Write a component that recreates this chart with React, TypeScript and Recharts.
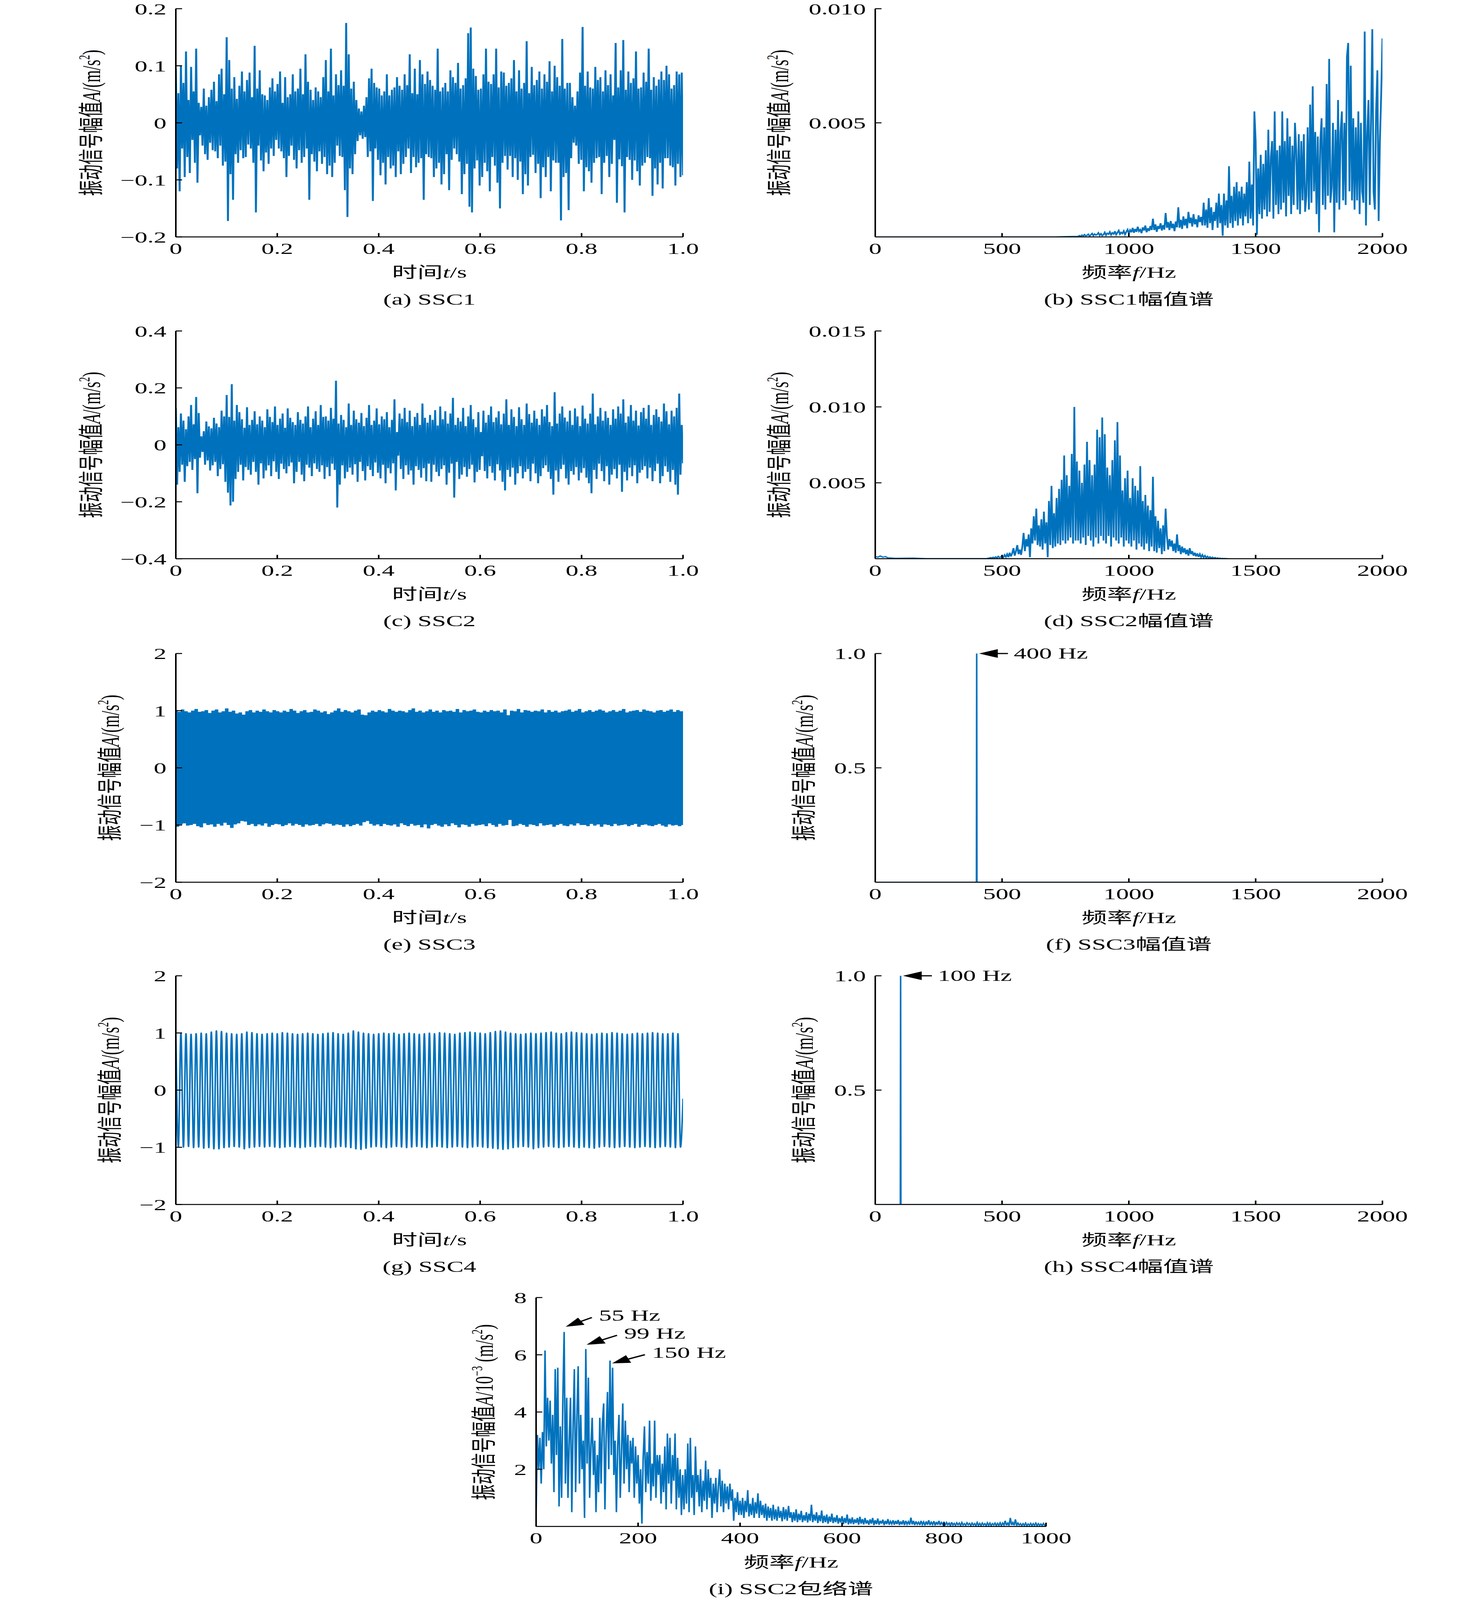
import React from "react";
import { LineChart, Line, XAxis, YAxis, ReferenceDot } from "recharts";

const FONT = '"Liberation Serif", "Times New Roman", "Noto Sans CJK SC", serif';
const BLUE = "#0072BD";
const REF_W = 3780;
const REF_H = 6618;

// (a) SSC1 time signal, 10^-3 m/s^2, 400 samples over 1 s
const ssc1Time = [
    95, -80, 52, -120, 100, -45, 70, -95, 125, -60,
    40, -88, 98, -30, 55, -70, 130, -105, 35, -22,
    28, -40, 60, -55, 30, -65, 45, -35, 58, -48,
    72, -50, 38, -62, 85, -40, 95, -75, 50, -68,
    150, -172, 110, -90, 60, -135, 80, -55, 42, -70,
    65, -48, 90, -62, 55, -60, 75, -38, 88, -45,
    45, -70, 135, -157, 60, -40, 92, -66, 50, -85,
    48, -52, 40, -72, 62, -45, 78, -58, 55, -30,
    68, -45, 90, -50, 35, -62, 80, -95, 45, -58,
    50, -40, 85, -65, 55, -80, 60, -48, 95, -70,
    50, -60, 120, -45, 72, -135, 58, -55, 40, -68,
    62, -85, 55, -50, 45, -72, 80, -60, 110, -90,
    55, -75, 130, -95, 48, -70, 85, -40, 66, -58,
    92, -60, 65, -118, 175, -165, 120, -80, 60, -90,
    72, -55, 40, -32, 25, -22, 20, -28, 30, -25,
    45, -60, 78, -50, 95, -137, 70, -45, 62, -65,
    60, -92, 48, -70, 55, -108, 85, -60, 48, -80,
    58, -75, 62, -95, 80, -50, 65, -90, 58, -72,
    85, -60, 66, -45, 120, -88, 52, -60, 95, -78,
    50, -70, 110, -62, 85, -135, 68, -55, 90, -60,
    75, -62, 65, -95, 58, -80, 130, -70, 55, -108,
    62, -90, 70, -55, 55, -118, 92, -65, 80, -45,
    70, -55, 105, -68, 60, -125, 66, -90, 78, -72,
    157, -147, 167, -157, 95, -80, 82, -66, 58, -110,
    60, -95, 85, -70, 130, -85, 72, -120, 68, -60,
    85, -75, 130, -105, 62, -150, 90, -70, 88, -58,
    65, -82, 70, -58, 78, -95, 110, -62, 55, -100,
    92, -68, 60, -125, 70, -90, 143, -110, 52, -60,
    98, -56, 66, -88, 75, -72, 90, -132, 60, -78,
    85, -95, 72, -60, 108, -120, 55, -66, 100, -70,
    80, -70, 65, -171, 147, -95, 60, -88, 70, -153,
    70, -62, 45, -35, 30, -40, 55, -72, 88, -65,
    168, -120, 65, -78, 90, -85, 62, -105, 60, -70,
    98, -62, 75, -60, 80, -125, 55, -70, 92, -58,
    66, -95, 85, -72, 48, -30, 140, -140, 62, -64,
    92, -76, 145, -157, 58, -60, 90, -65, 70, -100,
    78, -66, 125, -85, 60, -110, 62, -75, 88, -70,
    72, -60, 130, -62, 58, -128, 80, -80, 65, -108,
    76, -70, 90, -115, 75, -62, 100, -62, 85, -75,
    60, -78, 66, -110, 90, -72, 85, -95, 88, -92,
];

// (c) SSC2 time signal, 10^-3 m/s^2, 400 samples over 1 s
const ssc2Time = [
    130, -140, 62, -95, 110, -70, 85, -130, 55, -75,
    100, -60, 140, -88, 72, -50, 168, -170, 112, -45,
    30, -25, 48, -70, 82, -55, 65, -90, 58, -72,
    95, -60, 75, -110, 62, -85, 120, -68, 100, -130,
    175, -168, 98, -213, 213, -200, 85, -120, 140, -95,
    115, -70, 90, -125, 60, -78, 132, -88, 70, -105,
    88, -60, 118, -95, 72, -140, 100, -65, 85, -118,
    62, -90, 125, -72, 98, -110, 80, -58, 135, -95,
    70, -120, 92, -66, 110, -85, 60, -100, 128, -75,
    95, -62, 80, -135, 70, -95, 115, -60, 88, -105,
    75, -128, 100, -70, 135, -80, 62, -110, 92, -65,
    118, -85, 70, -95, 140, -72, 98, -120, 100, -78,
    85, -110, 130, -66, 92, -88, 225, -220, 75, -140,
    105, -72, 88, -118, 62, -95, 145, -80, 70, -105,
    120, -68, 90, -130, 78, -60, 112, -92, 66, -125,
    95, -75, 140, -88, 70, -110, 85, -62, 128, -98,
    72, -118, 100, -70, 90, -135, 115, -82, 62, -100,
    88, -65, 160, -160, 45, -38, 110, -85, 92, -120,
    130, -72, 80, -105, 120, -90, 66, -140, 98, -75,
    112, -88, 70, -115, 145, -82, 95, -128, 78, -66,
    105, -130, 88, -70, 122, -95, 68, -110, 135, -85,
    90, -72, 118, -140, 75, -98, 110, -66, 165, -185,
    70, -60, 95, -120, 82, -105, 130, -78, 66, -112,
    100, -85, 140, -70, 90, -132, 62, -95, 115, -88,
    45, -40, 120, -92, 78, -118, 105, -75, 135, -98,
    80, -125, 96, -68, 118, -90, 72, -130, 110, -160,
    160, -88, 70, -112, 125, -80, 98, -140, 66, -100,
    132, -75, 90, -118, 70, -95, 145, -85, 108, -128,
    78, -66, 120, -100, 92, -135, 70, -110, 125, -82,
    100, -72, 140, -95, 80, -120, 66, -175, 185, -90,
    75, -130, 110, -85, 135, -70, 96, -118, 82, -140,
    120, -92, 70, -105, 128, -78, 100, -125, 66, -98,
    138, -82, 92, -115, 75, -135, 110, -170, 180, -88,
    72, -120, 100, -66, 130, -92, 85, -128, 118, -75,
    95, -140, 70, -105, 125, -85, 92, -118, 135, -70,
    110, -165, 160, -95, 78, -125, 100, -80, 140, -110,
    85, -72, 120, -135, 68, -98, 115, -88, 130, -75,
    92, -118, 140, -80, 70, -128, 105, -92, 125, -66,
    98, -135, 82, -110, 145, -75, 118, -95, 72, -130,
    120, -88, 100, -140, 130, -175, 180, -105, 70, -65,
];

// (e) SSC3 time signal, 10^-2 m/s^2, 300 samples over 1 s
const ssc3Time = [
    101, -103, 98, -99, 102, -97, 99, -101, 97, -100,
    100, -98, 103, -102, 98, -104, 99, -97, 101, -100,
    96, -99, 100, -103, 102, -98, 97, -101, 99, -96,
    104, -100, 98, -105, 100, -99, 95, -97, 97, -93,
    93, -94, 99, -100, 101, -98, 97, -102, 100, -99,
    98, -101, 102, -97, 99, -103, 97, -100, 101, -98,
    99, -99, 97, -102, 100, -100, 98, -97, 103, -101,
    100, -98, 96, -100, 99, -103, 101, -99, 97, -101,
    98, -100, 102, -98, 100, -102, 97, -99, 99, -97,
    94, -98, 97, -101, 100, -99, 104, -100, 98, -103,
    101, -99, 99, -102, 97, -100, 100, -98, 102, -101,
    93, -95, 92, -93, 97, -98, 100, -101, 98, -99,
    101, -102, 99, -98, 97, -100, 103, -101, 100, -99,
    98, -103, 100, -97, 99, -100, 97, -102, 101, -98,
    104, -101, 98, -100, 100, -104, 97, -99, 99, -106,
    102, -100, 98, -98, 100, -101, 97, -103, 101, -99,
    99, -102, 100, -97, 98, -100, 103, -104, 97, -99,
    101, -100, 99, -103, 100, -98, 102, -101, 98, -100,
    97, -99, 100, -102, 98, -97, 101, -100, 99, -103,
    100, -98, 97, -101, 102, -100, 92, -91, 100, -102,
    99, -101, 103, -98, 97, -100, 101, -103, 100, -99,
    98, -100, 100, -102, 99, -97, 102, -101, 97, -100,
    101, -99, 98, -103, 100, -100, 97, -98, 99, -101,
    100, -102, 102, -99, 98, -101, 100, -97, 103, -100,
    97, -100, 99, -102, 101, -98, 98, -101, 100, -99,
    102, -103, 100, -99, 97, -100, 99, -102, 101, -98,
    98, -101, 100, -100, 103, -99, 97, -102, 99, -100,
    100, -98, 101, -103, 98, -100, 102, -99, 100, -101,
    99, -102, 97, -100, 100, -98, 101, -101, 98, -103,
    100, -99, 102, -101, 98, -100, 101, -102, 99, -100,
];

// (g) SSC4: crest and trough of each 100 Hz cycle, 10^-2 m/s^2
const ssc4Peaks = [
    99, 100, 99, 98, 99, 100, 99, 102, 104, 103,
    100, 99, 98, 99, 102, 101, 99, 98, 99, 100,
    99, 101, 100, 99, 98, 99, 100, 99, 98, 99,
    100, 101, 99, 98, 100, 104, 102, 100, 99, 98,
    99, 100, 99, 100, 98, 99, 100, 99, 98, 99,
    100, 99, 101, 100, 99, 98, 100, 101, 102, 101,
    100, 99, 101, 103, 104, 102, 100, 99, 98, 99,
    100, 99, 100, 101, 102, 100, 99, 101, 102, 101,
    100, 99, 98, 99, 100, 99, 101, 100, 99, 98,
    99, 100, 99, 100, 101, 100, 99, 99, 100, 99,
];
const ssc4Troughs = [
    -99, -100, -99, -101, -100, -102, -101, -103, -103, -101,
    -100, -99, -100, -103, -101, -100, -99, -100, -99, -100,
    -101, -100, -99, -100, -101, -100, -99, -100, -99, -100,
    -101, -100, -99, -100, -101, -103, -104, -102, -100, -99,
    -100, -101, -100, -99, -100, -101, -100, -99, -100, -101,
    -100, -99, -100, -101, -100, -99, -100, -101, -100, -99,
    -100, -101, -102, -103, -104, -103, -101, -100, -99, -100,
    -103, -101, -100, -99, -100, -101, -100, -99, -100, -101,
    -100, -101, -102, -100, -99, -100, -101, -100, -99, -100,
    -101, -100, -99, -100, -101, -100, -99, -100, -101, -100,
];
const ssc4End = -15;

// (b) SSC1 amplitude spectrum, 10^-4 m/s^2, 5 Hz bins from 800 Hz
const ssc1LeadF = [0, 700, 760];
const ssc1LeadA = [0, 0, 0.2];
const ssc1Spec = [
    0.3, 0.6, 0.2, 0.8, 0.4, 1.0, 0.5, 0.7, 1.2, 0.4,
    0.9, 1.5, 0.6, 1.3, 0.8, 1.1, 1.8, 0.7, 1.4, 0.6,
    1.0, 2.0, 0.8, 1.6, 1.2, 2.2, 0.9, 1.8, 1.3, 2.5,
    1.0, 1.9, 2.8, 1.2, 2.0, 1.5, 2.6, 1.1, 2.2, 3.2,
    1.5, 3.0, 2.0, 4.0, 1.8, 3.5, 2.2, 4.5, 2.5, 3.2,
    1.6, 4.2, 2.8, 5.0, 2.0, 3.8, 2.6, 4.8, 3.0, 8.0,
    3.0, 5.5, 2.2, 4.8, 3.5, 6.0, 2.8, 5.2, 3.2, 10.5,
    4.0, 6.5, 3.0, 7.0, 3.8, 5.8, 2.5, 6.8, 4.2, 13.0,
    4.0, 7.5, 3.5, 9.0, 5.0, 8.0, 3.8, 11.0, 6.0, 8.5,
    4.5, 10.0, 5.5, 7.8, 4.2, 9.5, 6.5, 8.8, 5.0, 15.0,
    5, 12, 4, 17, 6, 13, 3, 11, 7, 15,
    4, 19, 6, 14, 0.5, 19, 5, 16, 4, 31,
    6, 18, 4, 22, 7, 24, 5, 20, 8, 22,
    5, 19, 9, 24, 6, 33, 8, 23, 5, 55,
    42, 1, 30, 10, 36, 8, 32, 12, 38, 9,
    47, 11, 35, 42, 8, 55, 14, 38, 10, 40,
    12, 55, 15, 42, 9, 52, 18, 44, 10, 40,
    14, 50, 38, 12, 45, 10, 42, 16, 45, 11,
    18, 48, 12, 58, 15, 66, 20, 46, 10, 44,
    2, 42, 52, 14, 48, 12, 67, 18, 78, 15,
    22, 50, 2, 47, 15, 60, 12, 46, 55, 16,
    50, 14, 79, 85, 20, 75, 16, 52, 12, 48,
    16, 55, 10, 50, 20, 15, 90, 5, 45, 60,
    14, 52, 91, 20, 12, 55, 73, 7, 42, 62,
    87,
];

// (d) SSC2 amplitude spectrum, 10^-4 m/s^2, 5 Hz bins from 450 Hz
const ssc2LeadF = [0, 10, 20, 30, 40, 50, 80, 150, 200, 440];
const ssc2LeadA = [1.5, 1.0, 1.8, 1.0, 1.4, 0.6, 0.3, 0.4, 0.1, 0.2];
const ssc2Spec = [
    0.5, 0.8, 0.4, 1.0, 0.6, 1.2, 0.5, 1.5, 0.8, 1.1,
    2.0, 0.8, 2.5, 1.2, 3.0, 1.0, 4.0, 1.5, 3.5, 7.0,
    2, 5, 9, 3, 6, 2.5, 8, 17, 5, 13,
    8, 16, 1, 20, 10, 28, 12, 33, 9, 22,
    8, 26, 6, 31, 10, 24, 1, 38, 9, 48,
    7, 30, 8, 40, 10, 46, 9, 52, 12, 68,
    10, 55, 12, 48, 14, 69, 10, 100, 12, 64,
    12, 58, 10, 50, 14, 62, 9, 77, 15, 65,
    12, 55, 8, 62, 14, 85, 10, 80, 15, 93,
    12, 82, 10, 60, 15, 55, 8, 65, 14, 78,
    12, 90, 10, 68, 14, 45, 8, 53, 12, 58,
    10, 40, 8, 53, 12, 48, 6, 45, 10, 61,
    8, 38, 6, 42, 10, 35, 5, 32, 8, 54,
    5, 28, 4, 25, 7, 20, 3, 22, 5, 33,
    15, 6, 13, 8, 12, 5, 10, 4, 16, 5,
    9, 3, 8, 4, 7, 3, 6, 2, 7, 3,
    5, 2, 4, 1.5, 3.5, 1.2, 3, 1, 2.5, 0.8,
    2, 0.6, 1.5, 0.5, 1.2, 0.4, 1.0, 0.3, 0.8, 0.2,
    0.6, 0.2, 0.4, 0.1, 0.3, 0.1, 0.2, 0.05, 0.1, 0, 0,
];
const ssc2TailF = [1500, 2000];
const ssc2TailA = [0, 0];

// (f) / (h) single-tone spectra, m/s^2
const ssc3SpecF = [0, 399, 400, 401, 2000];
const ssc3SpecA = [0, 0, 1, 0, 0];
const ssc4SpecF = [0, 99, 100, 101, 2000];
const ssc4SpecA = [0, 0, 1, 0, 0];

// (i) SSC2 envelope spectrum, 10^-3 m/s^2, 2.5 Hz bins
// envLow: 0-400 Hz, envHigh: 402.5-1000 Hz
const envLow = [
    0.5, 3.2, 2.0, 3.1, 1.5, 3.3, 2.0, 6.15, 2.8, 4.5,
    3.0, 4.4, 2.2, 3.9, 1.2, 5.5, 2.5, 5.55, 0.7, 3.5,
    1.0, 4.5, 6.8, 1.5, 4.5, 1.0, 3.0, 4.5, 0.5, 3.5,
    5.5, 1.2, 3.8, 5.6, 1.5, 3.9, 2.0, 3.0, 0.3, 6.2,
    2.2, 5.2, 1.0, 2.8, 3.8, 1.8, 3.0, 0.5, 2.5, 1.2,
    3.8, 1.5, 3.6, 4.3, 0.6, 3.2, 4.7, 2.0, 5.8, 2.5,
    5.55, 1.8, 3.0, 0.5, 2.8, 3.9, 1.0, 2.6, 4.3, 1.5,
    3.7, 2.0, 3.2, 1.2, 3.0, 2.2, 3.1, 1.0, 2.8, 1.5,
    2.5, 0.8, 2.0, 0.1, 2.4, 3.5, 1.2, 2.6, 1.5, 3.7,
    0.9, 2.2, 1.4, 3.7, 1.0, 2.5, 1.8, 2.5, 0.8, 2.2,
    1.2, 2.8, 0.6, 3.25, 1.5, 3.1, 0.8, 2.5, 1.6, 3.25,
    0.6, 2.4, 1.0, 2.0, 0.4, 1.8, 0.6, 2.0, 0.8, 2.9,
    0.5, 3.1, 1.0, 1.8, 0.4, 2.8, 1.2, 1.8, 0.7, 2.0,
    0.5, 1.6, 0.9, 2.3, 0.6, 2.0, 1.0, 1.7, 0.3, 1.5,
    0.8, 1.7, 0.5, 1.4, 2.0, 0.7, 1.6, 0.5, 1.5, 0.8,
    1.4, 0.6, 1.5, 0.9, 1.3, 0.2, 1.0, 0.5, 1.2, 0.4,
    0.9,
];
const envHigh = [
    0.4, 1.0, 0.3, 0.9, 0.5, 1.27, 0.35, 0.8, 0.4, 1.0,
    0.3, 0.85, 0.45, 1.16, 0.3, 0.9, 0.4, 0.75, 0.3, 0.8,
    0.2, 0.7, 0.3, 0.65, 0.2, 0.76, 0.25, 0.6, 0.2, 0.7,
    0.3, 0.55, 0.18, 0.68, 0.25, 0.6, 0.2, 0.72, 0.3, 0.5,
    0.15, 0.5, 0.2, 0.6, 0.15, 0.45, 0.22, 0.55, 0.15, 0.4,
    0.2, 0.5, 0.14, 0.45, 0.2, 0.76, 0.15, 0.42, 0.2, 0.5,
    0.12, 0.4, 0.18, 0.56, 0.12, 0.38, 0.15, 0.42, 0.1, 0.35,
    0.16, 0.45, 0.12, 0.32, 0.15, 0.4, 0.1, 0.3, 0.14, 0.36,
    0.08, 0.3, 0.12, 0.42, 0.07, 0.28, 0.1, 0.32, 0.08, 0.25,
    0.12, 0.3, 0.06, 0.34, 0.1, 0.26, 0.07, 0.3, 0.1, 0.22,
    0.06, 0.25, 0.1, 0.3, 0.05, 0.22, 0.08, 0.28, 0.06, 0.2,
    0.1, 0.24, 0.05, 0.2, 0.08, 0.26, 0.06, 0.18, 0.09, 0.22,
    0.06, 0.2, 0.08, 0.23, 0.05, 0.18, 0.07, 0.22, 0.05, 0.2,
    0.08, 0.17, 0.06, 0.31, 0.07, 0.2, 0.05, 0.18, 0.08, 0.15,
    0.05, 0.2, 0.07, 0.16, 0.04, 0.18, 0.06, 0.22, 0.05, 0.15,
    0.07, 0.19, 0.04, 0.16, 0.06, 0.2, 0.05, 0.14, 0.07, 0.17,
    0.04, 0.14, 0.06, 0.12, 0.03, 0.15, 0.05, 0.11, 0.04, 0.13,
    0.06, 0.12, 0.03, 0.14, 0.05, 0.1, 0.04, 0.13, 0.06, 0.11,
    0.03, 0.12, 0.05, 0.1, 0.03, 0.14, 0.04, 0.11, 0.03, 0.12,
    0.05, 0.1, 0.03, 0.13, 0.04, 0.12, 0.03, 0.1, 0.05, 0.12,
    0.03, 0.11, 0.04, 0.13, 0.03, 0.12, 0.05, 0.2, 0.04, 0.12,
    0.03, 0.3, 0.05, 0.14, 0.04, 0.25, 0.03, 0.12, 0.05, 0.1,
    0.03, 0.1, 0.04, 0.12, 0.03, 0.09, 0.04, 0.11, 0.03, 0.1,
    0.04, 0.12, 0.03, 0.1, 0.04, 0.09, 0.03, 0.11, 0.04, 0.08,
];

const timeTicks = [0, 0.2, 0.4, 0.6, 0.8, 1.0];
const specTicks = [0, 500, 1000, 1500, 2000];
const envTicks = [0, 200, 400, 600, 800, 1000];

type Pt = { x: number; y: number };

const sampled = (vals: number[], unit: number): Pt[] =>
    vals.map((v, i) => ({ x: i / (vals.length - 1), y: v * unit }));
const binned = (start: number, step: number, vals: number[], unit: number): Pt[] =>
    vals.map((v, i) => ({ x: start + step * i, y: v * unit }));
const pairs = (fs: number[], as: number[], unit: number): Pt[] =>
    fs.map((f, i) => ({ x: f, y: as[i] * unit }));

const ssc1TimeData = sampled(ssc1Time, 1e-3);
const ssc2TimeData = sampled(ssc2Time, 1e-3);
const ssc3TimeData = sampled(ssc3Time, 1e-2);
const ssc4TimeData: Pt[] = [
    ...ssc4Peaks.flatMap((p, k) => [
        { x: k / 100, y: p / 100 },
        { x: (k + 0.5) / 100, y: ssc4Troughs[k] / 100 },
    ]),
    { x: 1, y: ssc4End / 100 },
];
const ssc1SpecData = [...pairs(ssc1LeadF, ssc1LeadA, 1e-4), ...binned(800, 5, ssc1Spec, 1e-4)];
const ssc2SpecData = [
    ...pairs(ssc2LeadF, ssc2LeadA, 1e-4),
    ...binned(450, 5, ssc2Spec, 1e-4),
    ...pairs(ssc2TailF, ssc2TailA, 1e-4),
];
const ssc3SpecData = pairs(ssc3SpecF, ssc3SpecA, 1);
const ssc4SpecData = pairs(ssc4SpecF, ssc4SpecA, 1);
const envData = [...binned(0, 2.5, envLow, 1), ...binned(402.5, 2.5, envHigh, 1)];

// tick formatting
const minus = (s: string) => s.replace("-", "\u2212");
const fmt1 = (v: number) => (v === 0 ? "0" : minus(v.toFixed(1)));
const fmtInt = (v: number) => minus(String(v));
const fmt3 = (v: number) => v.toFixed(3);
const fmtPlain = (v: number) => String(v);

const axisStyle = { stroke: "#000", strokeWidth: 4 };
const tickStyle = { fontSize: 65, fill: "#000", fontFamily: FONT };

// arrow pointing left at a spectral line, label on the right
const sideArrow = (label: string) => (p: any) => {
    const { cx, cy } = p;
    return (
        <g>
            <polygon points={`${cx + 6},${cy} ${cx + 54},${cy - 18} ${cx + 54},${cy + 18}`} fill="#000" />
            <line x1={cx + 50} y1={cy} x2={cx + 80} y2={cy} stroke="#000" strokeWidth={5} />
            <text x={cx + 95} y={cy} dominantBaseline="central" fontSize={65} fontFamily={FONT}>
                {label}
            </text>
        </g>
    );
};

// slanted arrow, tip at the anchor, tail up and to the right
const slantArrow = (label: string, dx: number, dy: number) => (p: any) => {
    const { cx, cy } = p;
    const len = Math.hypot(dx, dy);
    const ux = dx / len;
    const uy = dy / len;
    const bx = cx + ux * 46;
    const by = cy + uy * 46;
    return (
        <g>
            <polygon
                points={`${cx},${cy} ${bx - uy * 17},${by + ux * 17} ${bx + uy * 17},${by - ux * 17}`}
                fill="#000"
            />
            <line x1={bx - ux * 2} y1={by - uy * 2} x2={cx + dx} y2={cy + dy} stroke="#000" strokeWidth={5} />
            <text x={cx + dx + 18} y={cy + dy - 8} dominantBaseline="central" fontSize={65} fontFamily={FONT}>
                {label}
            </text>
        </g>
    );
};

type PanelProps = {
    rect: [number, number, number, number];
    data: Pt[];
    xDomain: [number, number];
    xTicks: number[];
    xFmt: (v: number) => string;
    yDomain: [number, number];
    yTicks: number[];
    yFmt: (v: number) => string;
    lineWidth?: number;
    curve?: "linear" | "monotone";
    yLabel: React.ReactNode;
    yLabelGap: number;
    xLabel: React.ReactNode;
    caption: React.ReactNode;
    children?: React.ReactNode;
};

const textBox: React.CSSProperties = {
    position: "absolute",
    whiteSpace: "nowrap",
    fontSize: 65,
    lineHeight: 1,
    fontFamily: FONT,
};

function Panel({
    rect,
    data,
    xDomain,
    xTicks,
    xFmt,
    yDomain,
    yTicks,
    yFmt,
    lineWidth = 3.5,
    curve = "linear",
    yLabel,
    yLabelGap,
    xLabel,
    caption,
    children,
}: PanelProps) {
    const [x0, y0, x1, y1] = rect;
    const padL = 300;
    const padT = 40;
    const padR = 90;
    const padB = 180;
    const cx = (x0 + x1) / 2;

    return (
        <>
            <div style={{ position: "absolute", left: x0 - padL, top: y0 - padT }}>
                <LineChart
                    width={x1 - x0 + padL + padR}
                    height={y1 - y0 + padT + padB}
                    data={data}
                    margin={{ top: padT, right: padR, bottom: 0, left: 0 }}
                    style={{ overflow: "visible" }}
                >
                    <XAxis
                        dataKey="x"
                        type="number"
                        domain={xDomain}
                        ticks={xTicks}
                        tickFormatter={xFmt}
                        interval={0}
                        height={padB}
                        axisLine={axisStyle}
                        tickLine={axisStyle}
                        tickSize={-16}
                        tickMargin={40}
                        tick={tickStyle}
                        allowDataOverflow
                    />
                    <YAxis
                        type="number"
                        domain={yDomain}
                        ticks={yTicks}
                        tickFormatter={yFmt}
                        interval={0}
                        width={padL}
                        axisLine={axisStyle}
                        tickLine={axisStyle}
                        tickSize={-16}
                        tickMargin={40}
                        tick={tickStyle}
                        allowDataOverflow
                    />
                    <Line
                        dataKey="y"
                        type={curve}
                        stroke={BLUE}
                        strokeWidth={lineWidth}
                        dot={false}
                        activeDot={false}
                        isAnimationActive={false}
                    />
                    {children}
                </LineChart>
            </div>

            {/* y label */}
            <div
                style={{
                    ...textBox,
                    left: x0 - yLabelGap,
                    top: (y0 + y1) / 2,
                    transform: "translate(-50%, -50%) rotate(-90deg)",
                }}
            >
                {yLabel}
            </div>

            {/* x label */}
            <div style={{ ...textBox, left: cx, top: y1 + 148, transform: "translate(-50%, -50%)" }}>
                {xLabel}
            </div>

            {/* caption */}
            <div style={{ ...textBox, left: cx, top: y1 + 258, transform: "translate(-50%, -50%)" }}>
                {caption}
            </div>
        </>
    );
}

const sup: React.CSSProperties = { fontSize: "0.6em", verticalAlign: "0.7em" };

const ampLabel = (
    <span>
        振动信号幅值<i>A</i>/(m/s<span style={sup}>2</span>)
    </span>
);
const envLabel = (
    <span>
        振动信号幅值<i>A</i>/10<span style={sup}>−3</span> (m/s<span style={sup}>2</span>)
    </span>
);
const timeLabel = (
    <span>
        时间<i>t</i>/s
    </span>
);
const freqLabel = (
    <span>
        频率<i>f</i>/Hz
    </span>
);

export default function App() {
    // the window may be shorter than the figure: squeeze it vertically to fit
    const k = Math.min(1, window.innerHeight / REF_H);

    return (
        <div style={{ width: REF_W, height: REF_H * k, overflow: "hidden", background: "#fff" }}>
            <style>{`body{margin:0}`}</style>
            <div
                style={{
                    position: "relative",
                    width: REF_W,
                    height: REF_H,
                    background: "#fff",
                    color: "#000",
                    fontFamily: FONT,
                    transform: `scale(1, ${k})`,
                    transformOrigin: "0 0",
                }}
            >
                {/* ROW 1 */}
                <Panel
                    rect={[450, 36, 1748, 980]}
                    data={ssc1TimeData}
                    xDomain={[0, 1]}
                    xTicks={timeTicks}
                    xFmt={fmt1}
                    yDomain={[-0.2, 0.2]}
                    yTicks={[-0.2, -0.1, 0, 0.1, 0.2]}
                    yFmt={fmt1}
                    lineWidth={5}
                    yLabel={ampLabel}
                    yLabelGap={218}
                    xLabel={timeLabel}
                    caption="(a) SSC1"
                />
                <Panel
                    rect={[2240, 36, 3538, 980]}
                    data={ssc1SpecData}
                    xDomain={[0, 2000]}
                    xTicks={specTicks}
                    xFmt={fmtPlain}
                    yDomain={[0, 0.01]}
                    yTicks={[0.005, 0.01]}
                    yFmt={fmt3}
                    lineWidth={4.5}
                    yLabel={ampLabel}
                    yLabelGap={247}
                    xLabel={freqLabel}
                    caption="(b) SSC1幅值谱"
                />

                {/* ROW 2 */}
                <Panel
                    rect={[450, 1369, 1748, 2311]}
                    data={ssc2TimeData}
                    xDomain={[0, 1]}
                    xTicks={timeTicks}
                    xFmt={fmt1}
                    yDomain={[-0.4, 0.4]}
                    yTicks={[-0.4, -0.2, 0, 0.2, 0.4]}
                    yFmt={fmt1}
                    lineWidth={5}
                    yLabel={ampLabel}
                    yLabelGap={218}
                    xLabel={timeLabel}
                    caption="(c) SSC2"
                />
                <Panel
                    rect={[2240, 1369, 3538, 2311]}
                    data={ssc2SpecData}
                    xDomain={[0, 2000]}
                    xTicks={specTicks}
                    xFmt={fmtPlain}
                    yDomain={[0, 0.015]}
                    yTicks={[0.005, 0.01, 0.015]}
                    yFmt={fmt3}
                    lineWidth={4.5}
                    yLabel={ampLabel}
                    yLabelGap={247}
                    xLabel={freqLabel}
                    caption="(d) SSC2幅值谱"
                />

                {/* ROW 3 */}
                <Panel
                    rect={[450, 2703, 1748, 3649]}
                    data={ssc3TimeData}
                    xDomain={[0, 1]}
                    xTicks={timeTicks}
                    xFmt={fmt1}
                    yDomain={[-2, 2]}
                    yTicks={[-2, -1, 0, 1, 2]}
                    yFmt={fmtInt}
                    lineWidth={9}
                    yLabel={ampLabel}
                    yLabelGap={170}
                    xLabel={timeLabel}
                    caption="(e) SSC3"
                />
                <Panel
                    rect={[2240, 2703, 3538, 3649]}
                    data={ssc3SpecData}
                    xDomain={[0, 2000]}
                    xTicks={specTicks}
                    xFmt={fmtPlain}
                    yDomain={[0, 1]}
                    yTicks={[0.5, 1]}
                    yFmt={(v) => v.toFixed(1)}
                    lineWidth={4}
                    yLabel={ampLabel}
                    yLabelGap={184}
                    xLabel={freqLabel}
                    caption="(f) SSC3幅值谱"
                >
                    <ReferenceDot x={400} y={1} ifOverflow="visible" shape={sideArrow("400 Hz")} />
                </Panel>

                {/* ROW 4 */}
                <Panel
                    rect={[450, 4036, 1748, 4982]}
                    data={ssc4TimeData}
                    xDomain={[0, 1]}
                    xTicks={timeTicks}
                    xFmt={fmt1}
                    yDomain={[-2, 2]}
                    yTicks={[-2, -1, 0, 1, 2]}
                    yFmt={fmtInt}
                    lineWidth={4}
                    curve="monotone"
                    yLabel={ampLabel}
                    yLabelGap={170}
                    xLabel={timeLabel}
                    caption="(g) SSC4"
                />
                <Panel
                    rect={[2240, 4036, 3538, 4982]}
                    data={ssc4SpecData}
                    xDomain={[0, 2000]}
                    xTicks={specTicks}
                    xFmt={fmtPlain}
                    yDomain={[0, 1]}
                    yTicks={[0.5, 1]}
                    yFmt={(v) => v.toFixed(1)}
                    lineWidth={4}
                    yLabel={ampLabel}
                    yLabelGap={184}
                    xLabel={freqLabel}
                    caption="(h) SSC4幅值谱"
                >
                    <ReferenceDot x={100} y={1} ifOverflow="visible" shape={sideArrow("100 Hz")} />
                </Panel>

                {/* ROW 5 */}
                <Panel
                    rect={[1372, 5367, 2677, 6314]}
                    data={envData}
                    xDomain={[0, 1000]}
                    xTicks={envTicks}
                    xFmt={fmtPlain}
                    yDomain={[0, 8]}
                    yTicks={[2, 4, 6, 8]}
                    yFmt={fmtPlain}
                    lineWidth={4}
                    yLabel={envLabel}
                    yLabelGap={135}
                    xLabel={freqLabel}
                    caption="(i) SSC2包络谱"
                >
                    <ReferenceDot x={58} y={6.98} ifOverflow="visible" shape={slantArrow("55 Hz", 67, -38)} />
                    <ReferenceDot x={99} y={6.35} ifOverflow="visible" shape={slantArrow("99 Hz", 78, -39)} />
                    <ReferenceDot x={149} y={5.7} ifOverflow="visible" shape={slantArrow("150 Hz", 84, -36)} />
                </Panel>
            </div>
        </div>
    );
}
